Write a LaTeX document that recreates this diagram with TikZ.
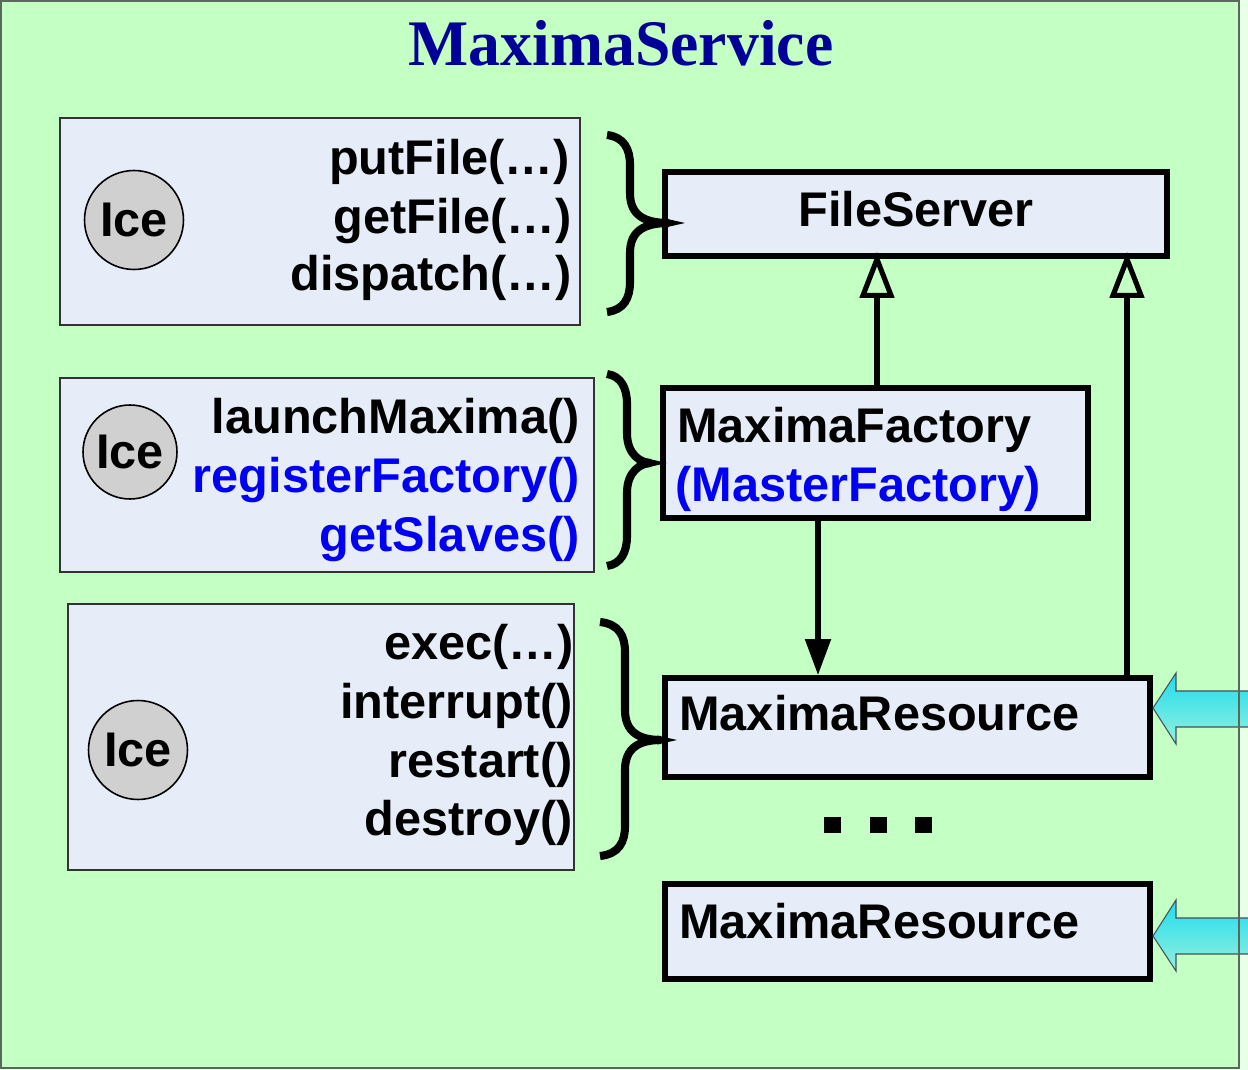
\documentclass[tikz,border=0pt]{standalone}
\usepackage{fontspec}
\setmainfont{Liberation Sans}
\newfontfamily\titlefont{Liberation Serif}
\usetikzlibrary{arrows.meta}
\definecolor{bggreen}{RGB}{196,255,196}
\definecolor{stripgreen}{RGB}{232,255,232}
\definecolor{frame}{RGB}{90,106,90}
\definecolor{boxfill}{RGB}{230,236,248}
\definecolor{icefill}{RGB}{208,208,208}
\definecolor{titleblue}{RGB}{0,0,153}
\definecolor{mblue}{RGB}{0,0,245}
\definecolor{cyantop}{RGB}{30,220,240}
\definecolor{cyanbot}{RGB}{150,240,220}
\tikzset{
  ifbox/.style={draw=black!80, line width=0.8pt, fill=boxfill, inner sep=0pt},
  clbox/.style={draw=black, line width=3.3pt, fill=boxfill, inner sep=0pt},
  icecirc/.style={circle, draw=black, line width=0.9pt, fill=icefill, inner sep=0pt, minimum size=1.98cm},
  txt/.style={inner sep=0pt, font=\bfseries\fontsize{27.7}{33}\selectfont},
  bracestyle/.style={line width=4.6pt, line cap=butt},
  inh/.style={line width=2.9pt, shorten >=-0.14cm, -{Triangle[open, length=0.92cm, width=0.68cm]}},
  assoc/.style={line width=2.9pt, -{Triangle[length=0.72cm, width=0.5cm]}},
  sqdot/.style={fill=black, inner sep=0pt, minimum size=0.34cm},
  blockarrow/.style={draw=black!75!cyan, line width=0.6pt, top color=cyantop, bottom color=cyanbot}
}
\newcommand\boxnode[6]{\node[#2,minimum width={(#5-#3)*0.02cm},minimum height={(#6-#4)*0.02cm}] (#1) at ({(#3+#5)/2},{(#4+#6)/2}) {};}
\newcommand\mybrace[6]{%
  \draw[bracestyle] (#1,#3) .. controls ({#2-6},{#3+2}) and (#2,{#3+14}) .. (#2,{#3+30})
    -- (#2,{#6-30}) .. controls (#2,{#6-8}) and ({#2+14},#6) .. ({#5-16},#6)
    .. controls ({#2+14},#6) and (#2,{#6+8}) .. (#2,{#6+30})
    -- (#2,{#4-30}) .. controls (#2,{#4-14}) and ({#2-6},{#4-2}) .. (#1,#4);
  \fill ({#5-20},{#6-4.5}) -- (#5,#6) -- ({#5-20},{#6+4.5}) -- cycle;}
\begin{document}
\begin{tikzpicture}[x=0.02cm,y=-0.02cm]
\useasboundingbox (0,0) rectangle (1248,1070);
% background
\fill[stripgreen] (0,0) rectangle (1248,1070);
\fill[bggreen] (1,1) rectangle (1239,1068);
% title
\node[inner sep=0pt, anchor=base, text=titleblue, font=\titlefont\bfseries\fontsize{37}{40}\selectfont, xscale=0.98] (title) at (621,66) {MaximaService};

% interface boxes
\boxnode{if1}{ifbox}{60}{118}{580}{325}
\boxnode{if2}{ifbox}{60}{378}{594}{572}
\boxnode{if3}{ifbox}{68}{604}{574}{870}

\node[icecirc] (ice1) at (134,220) {};
\node[txt] (icet1) at (ice1.center) {Ice};
\node[icecirc, minimum size=1.88cm] (ice2) at (130,452) {};
\node[txt] (icet2) at (ice2.center) {Ice};
\node[icecirc] (ice3) at (138,750) {};
\node[txt] (icet3) at (ice3.center) {Ice};

\node[txt, anchor=base east] (m11) at (570,175) {putFile(…)};
\node[txt, anchor=base east] (m12) at (572,234) {getFile(…)};
\node[txt, anchor=base east] (m13) at (572,291) {dispatch(…)};

\node[txt, anchor=base east] (m21) at (580,434) {launchMaxima()};
\node[txt, anchor=base east, text=mblue] (m22) at (580,493) {registerFactory()};
\node[txt, anchor=base east, text=mblue] (m23) at (580,552) {getSlaves()};

\node[txt, anchor=base east] (m31) at (574,660) {exec(…)};
\node[txt, anchor=base east] (m32) at (573,719) {interrupt()};
\node[txt, anchor=base east] (m33) at (573,778) {restart()};
\node[txt, anchor=base east] (m34) at (573,836) {destroy()};

% class boxes
\boxnode{fs}{clbox}{665}{172}{1167}{256}
\node[txt, anchor=base] (fst) at (916,227) {FileServer};
\boxnode{fac}{clbox}{663}{388}{1088}{518}
\node[txt, anchor=base west] (fact1) at (677,443) {MaximaFactory};
\node[txt, anchor=base west, text=mblue] (fact2) at (675,502) {(MasterFactory)};
\boxnode{res1}{clbox}{665}{678}{1150}{777}
\node[txt, anchor=base west] (res1t) at (679,731) {MaximaResource};
\boxnode{res2}{clbox}{665}{884}{1150}{979}
\node[txt, anchor=base west] (res2t) at (679,938) {MaximaResource};

% braces
\mybrace{607}{630}{135}{312}{685}{223}
\mybrace{607}{627}{374}{566}{667}{463}
\mybrace{600}{625}{622}{856}{677}{740}

% connectors
\coordinate (cx1) at (877,0);
\coordinate (cx2) at (1127,0);
\coordinate (cx3) at (818,0);
\draw[inh] (fac.north -| cx1) -- (fs.south -| cx1);
\draw[inh] (res1.north -| cx2) -- (fs.south -| cx2);
\draw[assoc] (fac.south -| cx3) -- (res1.north -| cx3);

% dots
\node[sqdot] (d1) at (832,825) {};
\node[sqdot] (d2) at (878,825) {};
\node[sqdot] (d3) at (923,825) {};

% block arrows
\draw[blockarrow] (1153,708) -- (1176,673) -- (1176,691) -- (1249,691) -- (1249,727) -- (1176,727) -- (1176,744) -- cycle;
\draw[blockarrow] (1153,936) -- (1176,900) -- (1176,918) -- (1249,918) -- (1249,954) -- (1176,954) -- (1176,971) -- cycle;

% frame
\draw[frame, line width=1pt] (1,1) rectangle (1239,1068);
\end{tikzpicture}
\end{document}
